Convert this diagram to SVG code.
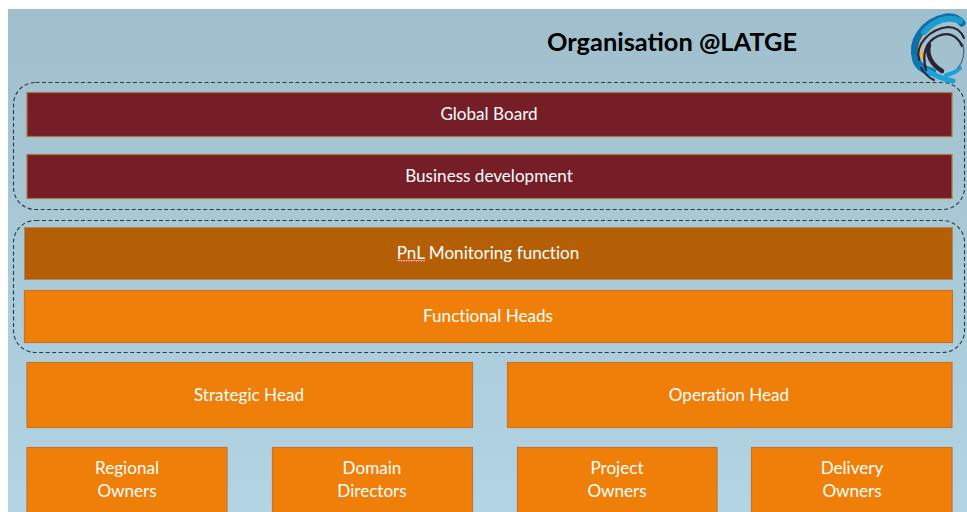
<svg xmlns="http://www.w3.org/2000/svg" width="967" height="512" viewBox="0 0 967 512">
<style>
.t{font-family:Lato,"Open Sans","Liberation Sans",sans-serif;font-size:17.1px;fill:#fff;text-anchor:middle;font-variant-ligatures:none}
.r{fill:#751e28;stroke:#a9783c;stroke-width:1.2}
.o{fill:#f07f09;stroke:#c8732a;stroke-width:1.2}
.d{fill:#b45f06;stroke:#a88a60;stroke-width:1}
.g{fill:none;stroke:#2b3a44;stroke-width:1.1;stroke-dasharray:4 2.5}
.l{fill:none;stroke-linecap:round}
</style>
<defs><linearGradient id="bg" x1="0" y1="0" x2="0" y2="1"><stop offset="0" stop-color="#a0bfcc"/><stop offset="1" stop-color="#b2d4e3"/></linearGradient></defs>
<rect width="967" height="512" fill="#fff"/>
<rect x="8" y="9" width="959" height="503" fill="url(#bg)"/>
<text x="672" y="51" style="font-family:Lato,'Open Sans','Liberation Sans',sans-serif;font-size:25.4px;font-weight:700;fill:#000;text-anchor:middle">Organisation @LATGE</text>
<g id="logo">
<path class="l" d="M917 42C920 34 925 31 931 28" stroke="#e8b84a" stroke-width="5"/>
<path class="l" d="M921 44C919 50 920 54 922 58" stroke="#e8b84a" stroke-width="4"/>
<path class="l" d="M916 60C910 42 922 22 946 17C952 16 958 18 962 23" stroke="#0f6fa8" stroke-width="7"/>
<path class="l" d="M924 32C933 22 946 15 960 21" stroke="#1e9ccf" stroke-width="6"/>
<path class="l" d="M916 58C917 66 924 70 932 72" stroke="#0e78b4" stroke-width="8"/>
<path class="l" d="M926 70C936 76 945 80 953 81" stroke="#1aa3d8" stroke-width="5"/>
<path class="l" d="M946 75C952 74 956 72 960 68" stroke="#1aa3d8" stroke-width="4"/>
<path class="l" d="M919 60C915 44 930 29 948 27C956 27 961 31 964 38" stroke="#2b2438" stroke-width="2"/>
<path class="l" d="M926 70C922 55 925 42 938 36C948 32 957 35 962 46" stroke="#2b2438" stroke-width="2.4"/>
<path class="l" d="M942 71C932 65 926 55 929 45" stroke="#2b2438" stroke-width="4.500"/>
<path class="l" d="M921 68C925 74 929 78 934 80" stroke="#2b2438" stroke-width="2"/>
<path class="l" d="M963 44C965 54 963 62 958 68" stroke="#4f7088" stroke-width="1.4"/>
</g>
<g id="connectors">
<rect class="g" x="13.500" y="82.500" width="951" height="127" rx="22"/>
<rect class="g" x="13.500" y="220.500" width="951" height="132" rx="22"/>
</g>
<g id="global-board"><rect class="r" x="27" y="92.500" width="925" height="44"/><text class="t" x="489" y="120">Global Board</text></g>
<g id="business-development"><rect class="r" x="27" y="154.500" width="925" height="44"/><text class="t" x="489" y="182">Business development</text></g>
<g id="pnl-monitoring"><rect class="d" x="24.500" y="227.500" width="928" height="52"/><text class="t" x="488" y="259">PnL Monitoring function</text><path d="M397 261h28" fill="none" stroke="#f0c0b0" stroke-width="1.400"/><path d="M397 261.500h28" fill="none" stroke="#e02828" stroke-width="1" stroke-dasharray="1.500 1"/></g>
<g id="functional-heads"><rect class="o" x="24.500" y="290.500" width="928" height="52"/><text class="t" x="488" y="322">Functional Heads</text></g>
<g id="strategic-head"><rect class="o" x="27" y="362.500" width="445.500" height="65"/><text class="t" x="249" y="400.500">Strategic Head</text></g>
<g id="operation-head"><rect class="o" x="507.500" y="362.500" width="444.500" height="65"/><text class="t" x="729" y="400.500">Operation Head</text></g>
<g id="regional-owners"><rect class="o" x="27" y="447.500" width="200" height="70"/><text class="t" x="127" y="474">Regional</text><text class="t" x="127" y="497">Owners</text></g>
<g id="domain-directors"><rect class="o" x="272.500" y="447.500" width="200" height="70"/><text class="t" x="372" y="474">Domain</text><text class="t" x="372" y="497">Directors</text></g>
<g id="project-owners"><rect class="o" x="517.500" y="447.500" width="199.500" height="70"/><text class="t" x="617" y="474">Project</text><text class="t" x="617" y="497">Owners</text></g>
<g id="delivery-owners"><rect class="o" x="751.500" y="447.500" width="200.500" height="70"/><text class="t" x="852" y="474">Delivery</text><text class="t" x="852" y="497">Owners</text></g>
</svg>
